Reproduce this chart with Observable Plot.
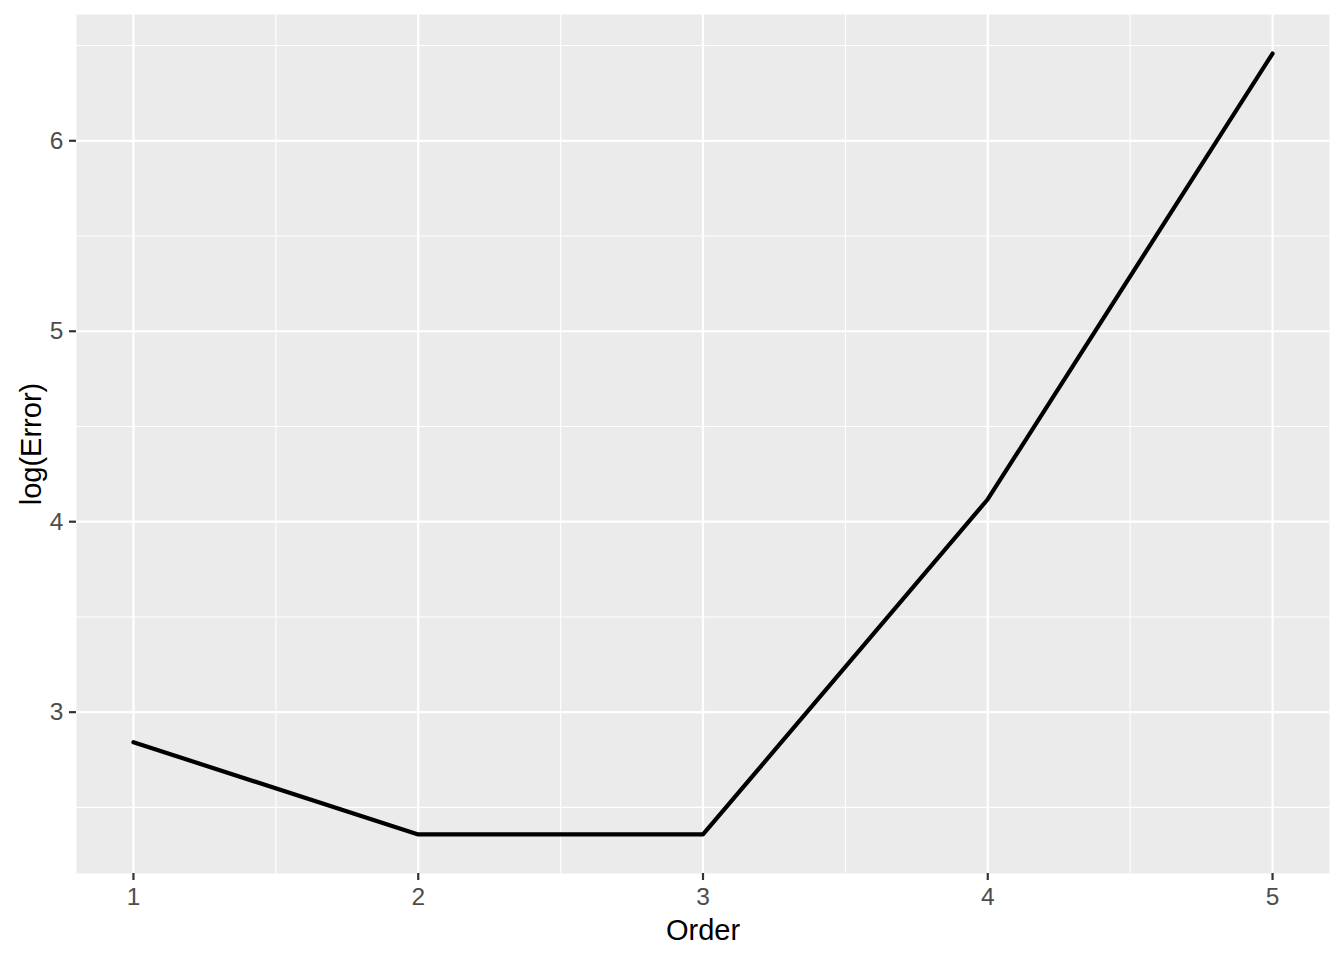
<!DOCTYPE html>
<html>
<head>
<meta charset="utf-8">
<script src="https://cdn.jsdelivr.net/npm/d3@7"></script>
<script src="https://cdn.jsdelivr.net/npm/@observablehq/plot@0.6"></script>
<style>
  html, body { margin: 0; padding: 0; background: #fff; }
  #chart svg { display: block; }
</style>
</head>
<body>
<div id="chart"></div>
<script>
const order = [1, 2, 3, 4, 5];
const logError = [2.842, 2.358, 2.358, 4.118, 6.458];
const xTicks = [1, 2, 3, 4, 5];
const xMinor = [1.5, 2.5, 3.5, 4.5];
const yTicks = [3, 4, 5, 6];
const yMinor = [2.5, 3.5, 4.5, 5.5, 6.5];
const xTitle = "Order";
const yTitle = "log(Error)";

const data = order.map((o, i) => ({order: o, logError: logError[i]}));

const font = "'Liberation Sans', Arial, sans-serif";
const W = 1344, H = 960, ML = 76, MR = 15, MT = 14, MB = 87;
const frameW = W - ML - MR, frameH = H - MT - MB;

const chart = Plot.plot({
  width: W,
  height: H,
  marginLeft: ML,
  marginRight: MR,
  marginTop: MT,
  marginBottom: MB,
  style: {fontFamily: font, background: "#fff"},
  x: {domain: [0.8, 5.2], axis: null},
  y: {domain: [2.153, 6.663], axis: null},
  marks: [
    Plot.frame({fill: "#EBEBEB", stroke: null}),
    Plot.gridX(xMinor, {stroke: "#fff", strokeOpacity: 1, strokeWidth: 1.1}),
    Plot.gridY(yMinor, {stroke: "#fff", strokeOpacity: 1, strokeWidth: 1.1}),
    Plot.gridX(xTicks, {stroke: "#fff", strokeOpacity: 1, strokeWidth: 2.2}),
    Plot.gridY(yTicks, {stroke: "#fff", strokeOpacity: 1, strokeWidth: 2.2}),
    // tick marks
    Plot.ruleX(xTicks, {x: d => d, stroke: "#333", strokeWidth: 2.2, insetTop: frameH, insetBottom: -7}),
    Plot.ruleY(yTicks, {y: d => d, stroke: "#333", strokeWidth: 2.2, insetRight: frameW, insetLeft: -7}),
    // tick labels
    Plot.text(xTicks, {x: d => d, frameAnchor: "bottom", dy: 24, text: d => String(d), fontSize: 24.5, fill: "#4D4D4D", lineAnchor: "middle"}),
    Plot.text(yTicks, {y: d => d, frameAnchor: "left", dx: -13, text: d => String(d), fontSize: 24.5, fill: "#4D4D4D", textAnchor: "end", lineAnchor: "middle"}),
    Plot.line(data, {x: "order", y: "logError", stroke: "#000", strokeWidth: 4.2, strokeLinejoin: "round"}),
    Plot.text([xTitle], {frameAnchor: "bottom", dy: 57, text: d => d, fontSize: 29, fill: "#000", lineAnchor: "middle"}),
    Plot.text([yTitle], {frameAnchor: "left", dx: -45, text: d => d, fontSize: 29, fill: "#000", rotate: -90, textAnchor: "middle", lineAnchor: "middle"})
  ]
});
document.getElementById("chart").appendChild(chart);
</script>
</body>
</html>
